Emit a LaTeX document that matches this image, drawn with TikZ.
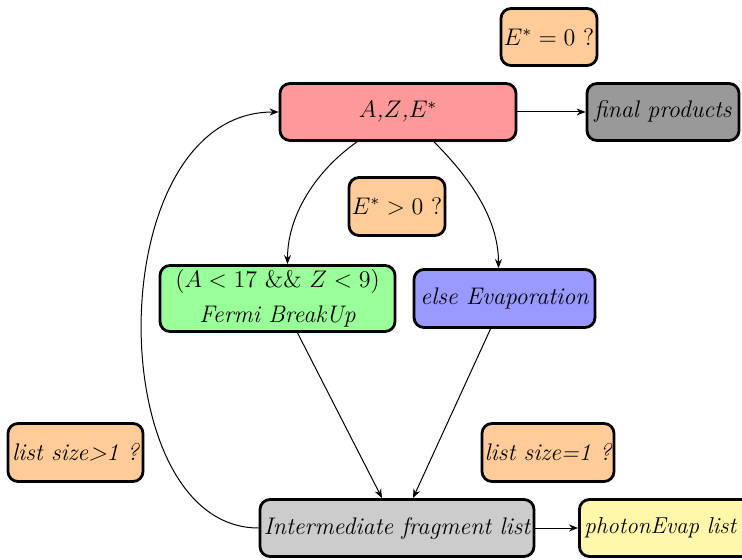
\documentclass[tikz,border=0pt]{standalone}
\usetikzlibrary{arrows.meta,calc}
\definecolor{cred}{HTML}{FF9999}
\definecolor{cgray}{HTML}{999999}
\definecolor{corange}{HTML}{FFCC99}
\definecolor{cgreen}{HTML}{99FF99}
\definecolor{cblue}{HTML}{9999FF}
\definecolor{clgray}{HTML}{CCCCCC}
\definecolor{cyellow}{HTML}{FFF7AA}
\begin{document}
\begin{tikzpicture}[x=0.5pt,y=-0.5pt,
  box/.style={draw=black,line width=1.4pt,rounded corners=5pt,inner sep=1pt,align=center,
    font=\fontsize{12}{17.5}\selectfont\itshape},
  arr/.style={-{Stealth[length=4.5pt,width=3.5pt]},line width=0.5pt}]
\useasboundingbox (0,0) rectangle (742,560);
\node[box,fill=corange,minimum width=48pt,minimum height=28.5pt,font=\fontsize{12}{17.5}\selectfont] (q0) at (549,37) {$E^{*}=0$ ?};
\node[box,fill=cred,minimum width=118pt,minimum height=28.5pt] (aze) at (398,112) {$A$,$Z$,$E^{*}$};
\node[box,fill=cgray,minimum width=76pt,minimum height=28.5pt] (fin) at (663,112) {final products};
\node[box,fill=corange,minimum width=48pt,minimum height=29pt,font=\fontsize{12}{17.5}\selectfont] (q1) at (397,206.5) {$E^{*}>0$ ?};
\node[box,fill=cgreen,minimum width=117.5pt,minimum height=33pt] (fermi) at (277.5,298.5) {\upshape$(A<17$ \&\& $Z<9)$\\ Fermi BreakUp};
\node[box,fill=cblue,minimum width=90.5pt,minimum height=29pt] (evap) at (504.5,298.5) {else Evaporation};
\node[box,fill=corange,minimum width=67.5pt,minimum height=29pt] (q2) at (75.5,452.5) {list size>1 ?};
\node[box,fill=corange,minimum width=66pt,minimum height=29pt] (q3) at (548,452.5) {list size=1 ?};
\node[box,fill=clgray,minimum width=137pt,minimum height=28.5pt] (inter) at (397,528) {Intermediate fragment list};
\node[box,fill=cyellow,minimum height=28.5pt,anchor=west,inner xsep=2.5pt,text width=84pt,align=left,
  font=\fontsize{11.5}{17}\selectfont\itshape] (phot) at (578,528) {photonEvap list};
\draw[arr] (aze) -- (fin);
\draw[arr] (inter) -- (phot);
\draw[arr] ([xshift=-20.5pt]aze.south) to[out=215,in=90,looseness=0.9] ([xshift=5pt]fermi.north);
\draw[arr] ([xshift=18pt]aze.south) to[out=-45,in=90,looseness=0.9] ([xshift=-3pt]evap.north);
\draw[arr] ([xshift=10pt]fermi.south) -- ([xshift=-7.5pt]inter.north);
\draw[arr] ([xshift=-7pt]evap.south) -- ([xshift=8pt]inter.north);
\draw[arr] (inter.west) .. controls +(-159,0) and +(-179,0) .. (aze.west);
\end{tikzpicture}
\end{document}
